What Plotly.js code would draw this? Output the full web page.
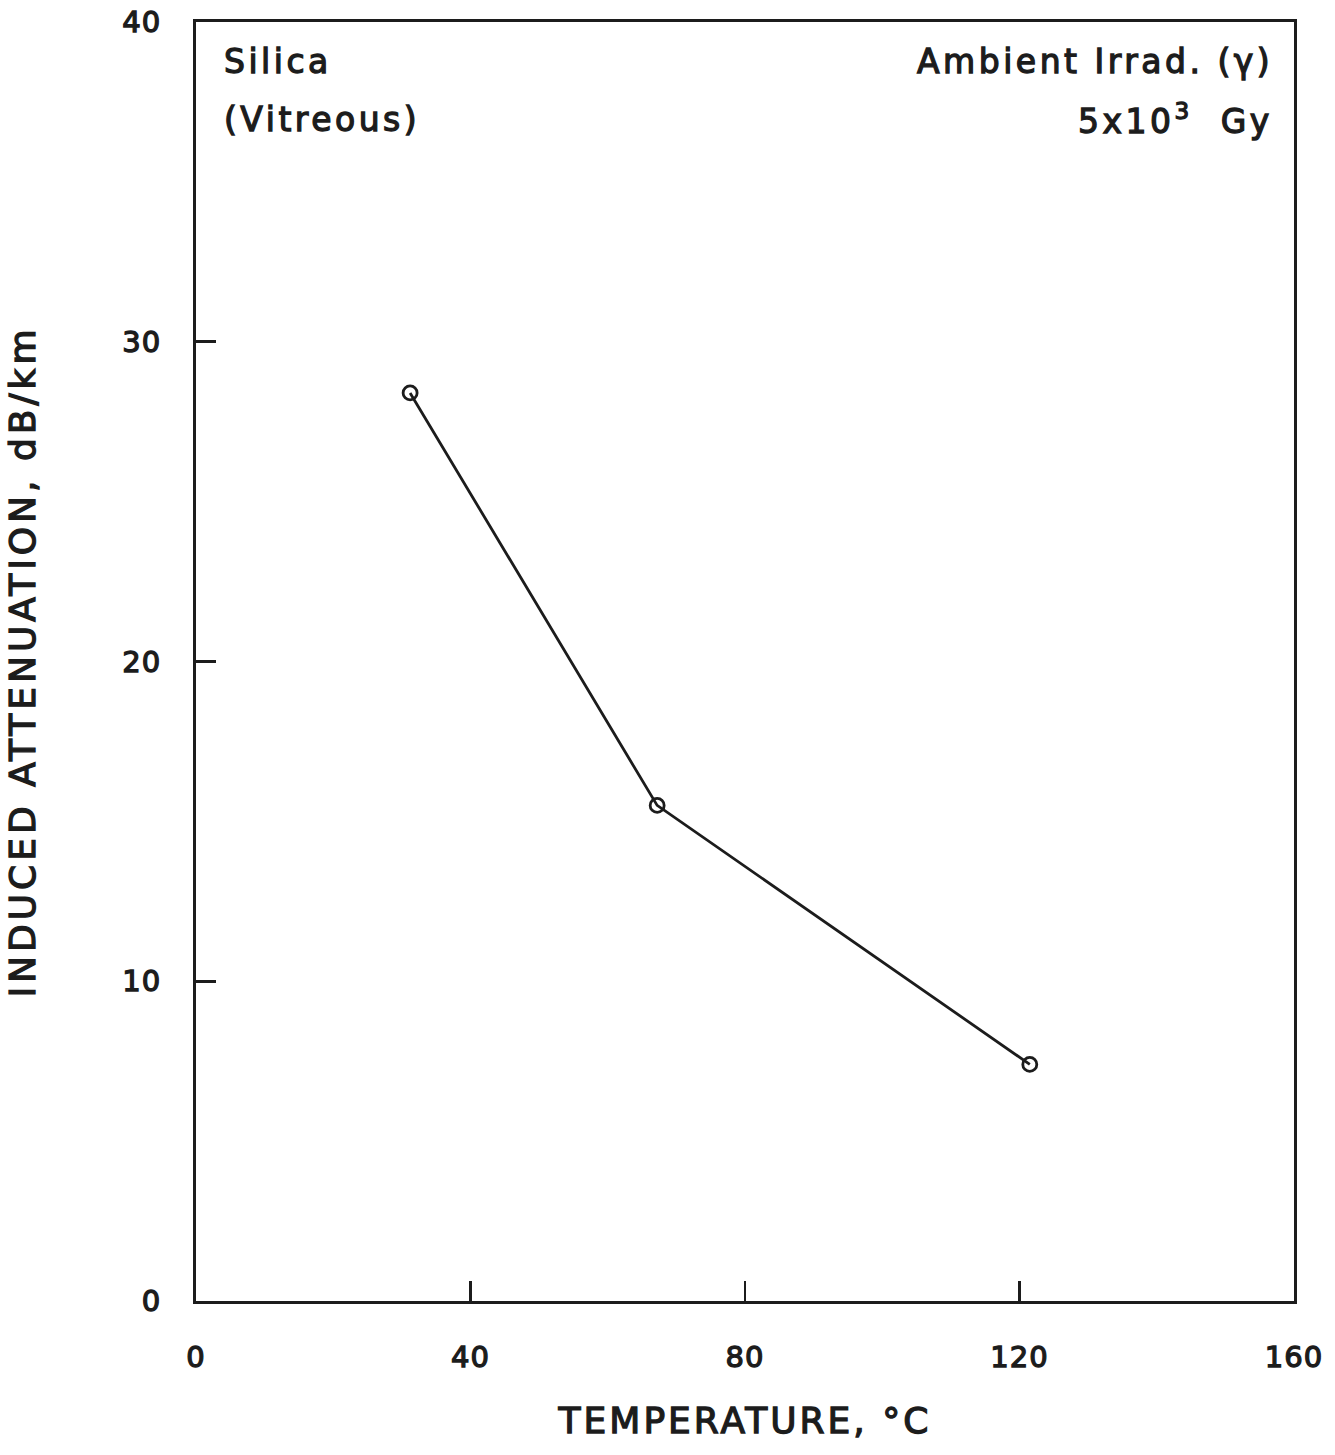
<!DOCTYPE html>
<html>
<head>
<meta charset="utf-8">
<script src="https://cdn.plot.ly/plotly-3.0.1.min.js"></script>
<style>
html,body{margin:0;padding:0;background:#fff;}
#chart{width:1335px;height:1455px;}
text{stroke:#1c1c1c;stroke-width:1.3px;}
.annotation-text{letter-spacing:3.5px;}
.xtitle{letter-spacing:3px;}
.ytitle{letter-spacing:4px;}
.xtick text,.ytick text{letter-spacing:1px;}
</style>
</head>
<body>
<div id="chart"></div>
<script>
const temperature = [31.2, 67.2, 121.5];
const attenuation = [28.4, 15.5, 7.4];
const xTicks = [0, 40, 80, 120, 160];
const yTicks = [0, 10, 20, 30, 40];

const fontFam = '"DejaVu Sans", "Liberation Sans", Arial, sans-serif';
const ink = '#1c1c1c';

const trace = {
  x: temperature,
  y: attenuation,
  mode: 'lines+markers',
  line: {color: ink, width: 2.8},
  marker: {symbol: 'circle-open', size: 14, color: ink, line: {width: 2.8, color: ink}},
  showlegend: false
};

const tf = {size: 29, family: fontFam, color: ink};
const af = {size: 33, family: fontFam, color: ink};
const ttf = {size: 36, family: fontFam, color: ink};

const layout = {
  width: 1335, height: 1455,
  margin: {l: 196, r: 41, t: 22, b: 154},
  paper_bgcolor: '#ffffff', plot_bgcolor: '#ffffff',
  font: {family: fontFam, color: ink, size: 28},
  xaxis: {
    range: [0, 160], tickvals: xTicks, ticktext: xTicks.map(String),
    ticks: 'inside', ticklen: 20, tickwidth: 2.8, tickcolor: ink,
    showline: true, linewidth: 3, linecolor: ink, mirror: true,
    showgrid: false, zeroline: false,
    ticklabelstandoff: 28,
    tickfont: tf,
    title: {text: 'TEMPERATURE, °C', font: ttf, standoff: 36}
  },
  yaxis: {
    range: [0, 40], tickvals: yTicks, ticktext: yTicks.map(String),
    ticks: 'inside', ticklen: 20, tickwidth: 2.8, tickcolor: ink,
    showline: true, linewidth: 3, linecolor: ink, mirror: true,
    showgrid: false, zeroline: false,
    ticklabelstandoff: 26,
    tickfont: tf,
    title: {text: 'INDUCED ATTENUATION, dB/km', font: ttf, standoff: 76}
  },
  annotations: [
    {xref: 'paper', yref: 'paper', x: 0.024, y: 0.969, xanchor: 'left', yanchor: 'middle', showarrow: false,
     text: 'Silica', font: af},
    {xref: 'paper', yref: 'paper', x: 0.024, y: 0.924, xanchor: 'left', yanchor: 'middle', showarrow: false,
     text: '(Vitreous)', font: af},
    {xref: 'paper', yref: 'paper', x: 0.983, y: 0.969, xanchor: 'right', yanchor: 'middle', showarrow: false,
     text: 'Ambient Irrad. (γ)', font: af},
    {xref: 'paper', yref: 'paper', x: 0.983, y: 0.924, xanchor: 'right', yanchor: 'middle', showarrow: false,
     text: '5x10<sup>3</sup>  Gy', font: af}
  ]
};

Plotly.newPlot('chart', [trace], layout, {displayModeBar: false, staticPlot: true});
</script>
</body>
</html>
